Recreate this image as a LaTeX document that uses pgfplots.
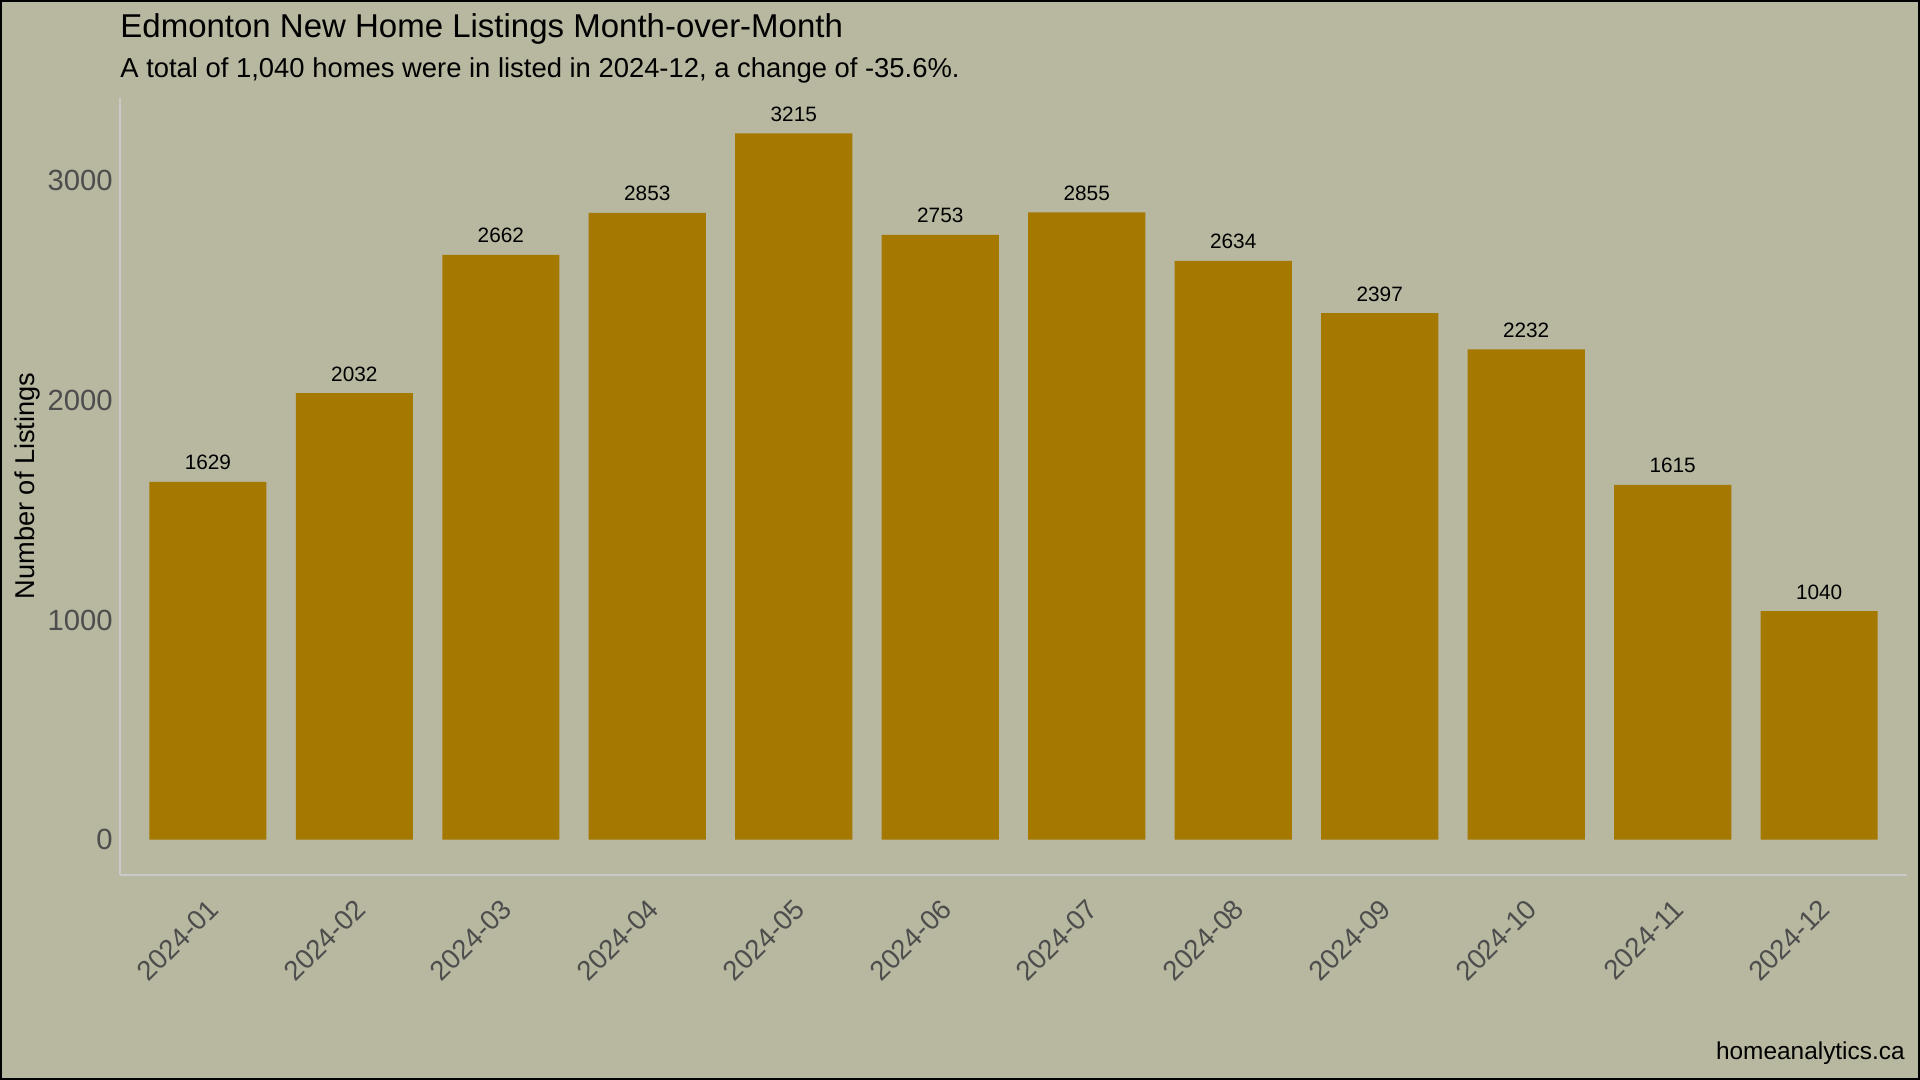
\documentclass[border=0pt]{standalone}
\usepackage{fontspec}
\setmainfont{Liberation Sans}
\usepackage{pgfplots}
\pgfplotsset{compat=1.18}
\definecolor{bg}{HTML}{B8B7A0}
\definecolor{barc}{HTML}{A57800}
\definecolor{tickc}{HTML}{4D4D4D}
\definecolor{axl}{HTML}{C9C9C9}
\begin{document}
\begin{tikzpicture}
\useasboundingbox (0,0) rectangle (960pt,540pt);
\fill[bg] (0,0) rectangle (960pt,540pt);
\begin{axis}[
  at={(60pt,102.5pt)}, anchor=south west,
  scale only axis, width=893.5pt, height=388.5pt,
  xmin=-0.6, xmax=11.6, ymin=-160.75, ymax=3375.75,
  axis x line*=bottom, axis y line*=left,
  axis line style={draw=axl, line width=0.9pt, -},
  major tick length=0pt,
  clip=false,
  xtick={0,1,2,3,4,5,6,7,8,9,10,11},
  xticklabels={2024-01,2024-02,2024-03,2024-04,2024-05,2024-06,2024-07,2024-08,2024-09,2024-10,2024-11,2024-12},
  ytick={0,1000,2000,3000},
  scaled y ticks=false,
  /pgf/number format/assume math mode=true,
  /pgf/number format/1000 sep={},
  /pgf/number format/fixed,
  yticklabel style={anchor=east, inner sep=0pt, xshift=-3.5pt, text=tickc, font=\fontsize{14.6}{16}\selectfont},
  xticklabel style={xshift=-0.5pt, yshift=-11pt, rotate=45, anchor=north east, inner sep=0pt, text=tickc, font=\fontsize{13.8}{15}\selectfont},
  ybar, bar width=0.8,
  nodes near coords,
  every node near coord/.append style={anchor=base, inner sep=0pt, yshift=6pt, text=black, font=\fontsize{10.4}{12}\selectfont},
]
\addplot[fill=barc, draw=none] coordinates {
(0,1629) (1,2032) (2,2662) (3,2853) (4,3215) (5,2753)
(6,2855) (7,2634) (8,2397) (9,2232) (10,1615) (11,1040)};
\end{axis}
\node[anchor=base west, inner sep=0pt, font=\fontsize{16.5}{20}\selectfont] at (60pt,521pt) {Edmonton New Home Listings Month-over-Month};
\node[anchor=base west, inner sep=0pt, font=\fontsize{13.7}{16}\selectfont] at (60pt,501pt) {A total of 1,040 homes were in listed in 2024-12, a change of -35.6\%.};
\node[anchor=base, rotate=90, inner sep=0pt, font=\fontsize{13.6}{16}\selectfont] at (17pt,297pt) {Number of Listings};
\node[anchor=base east, inner sep=0pt, font=\fontsize{12.2}{14}\selectfont] at (952.5pt,10pt) {homeanalytics.ca};
\draw[black, line width=1pt] (0.5pt,0.5pt) rectangle (959.5pt,539.5pt);
\end{tikzpicture}
\end{document}
